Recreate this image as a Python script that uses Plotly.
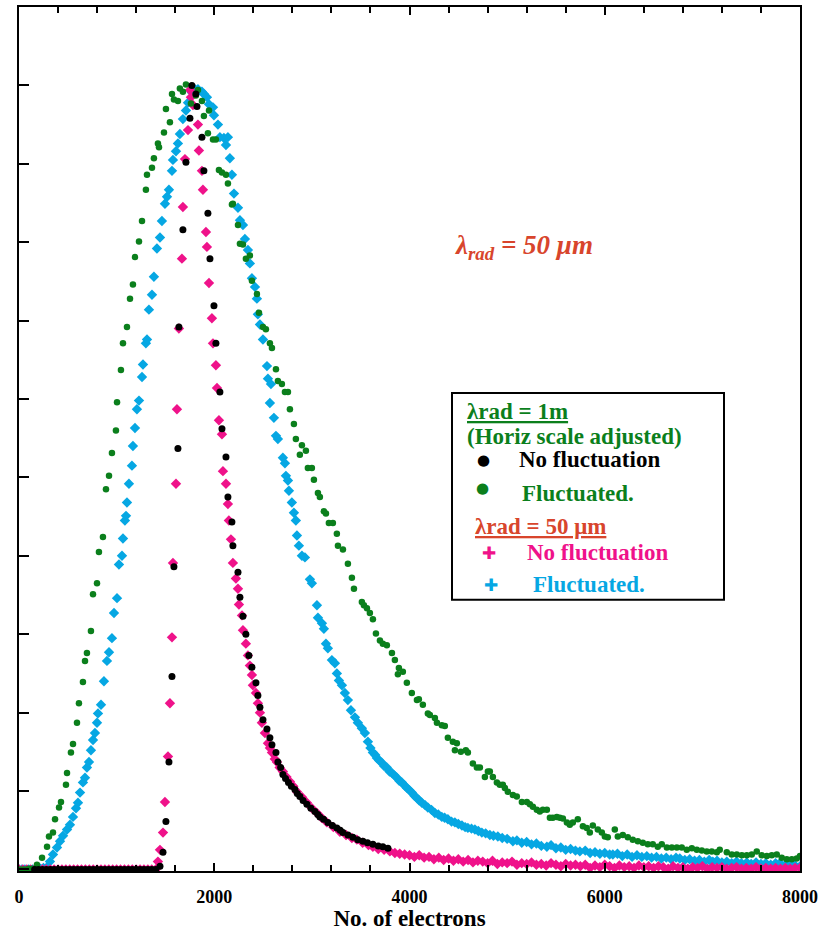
import plotly.graph_objects as go

# ---------------- data ----------------
# lambda_rad = 50 um, no fluctuation (pink)
pink_x = [0, 40, 80, 120, 160, 200, 240, 280, 320, 360, 400, 440, 480, 520, 560, 600, 640, 680, 720, 760,
          800, 840, 880, 920, 960, 1000, 1040, 1080, 1120, 1160, 1200, 1240, 1280, 1320, 1360, 1400,
          1423, 1444, 1475, 1495, 1526, 1546, 1567, 1577, 1608, 1618, 1638, 1669, 1679, 1700, 1731, 1751,
          1761, 1782, 1833, 1843, 1874, 1884, 1915, 1925, 1946, 1976, 1987, 2017, 2028, 2048, 2079, 2089,
          2120, 2140, 2150, 2171, 2191, 2222, 2243, 2253, 2284, 2294, 2324, 2345, 2365, 2386, 2396, 2427,
          2447, 2468, 2488, 2519, 2550, 2570, 2591, 2620, 2642, 2670, 2703, 2740, 2775, 2810, 2847, 2900,
          2949, 3000, 3052, 3100, 3154, 3220, 3287, 3350, 3410, 3461, 3520, 3580, 3625, 3680, 3740, 3799,
          3850, 3900, 3950, 4000, 4050, 4100, 4150, 4200, 4250, 4300, 4350, 4400, 4450, 4500, 4550, 4600,
          4650, 4700, 4750, 4800, 4850, 4900, 4950, 5000, 5050, 5100, 5150, 5200, 5250, 5300, 5350, 5400,
          5450, 5500, 5550, 5600, 5650, 5700, 5750, 5800, 5850, 5900, 5950, 6000, 6050, 6100, 6150, 6200,
          6250, 6300, 6350, 6400, 6450, 6500, 6550, 6600, 6650, 6700, 6750, 6800, 6850, 6900, 6950, 7000,
          7050, 7100, 7150, 7200, 7250, 7300, 7350, 7400, 7450, 7500, 7550, 7600, 7650, 7700, 7750, 7800,
          7850, 7900, 7950, 8000]
pink_y = [0] * 36 + [
          0.010, 0.025, 0.047, 0.086, 0.144, 0.212, 0.296, 0.391, 0.492, 0.587, 0.690, 0.779, 0.845, 0.906, 0.943, 0.994,
          0.985, 0.975, 0.950, 0.917, 0.891, 0.867, 0.813, 0.794, 0.748, 0.703, 0.671, 0.643, 0.614, 0.573, 0.555, 0.508,
          0.492, 0.466, 0.445, 0.421, 0.391, 0.371, 0.358, 0.338, 0.324, 0.305, 0.288, 0.273, 0.260, 0.248, 0.235, 0.225,
          0.212, 0.200, 0.187, 0.174, 0.161, 0.155, 0.149, 0.141, 0.137, 0.130, 0.125, 0.118, 0.112, 0.106, 0.099, 0.092,
          0.085, 0.078, 0.072, 0.066, 0.060, 0.054, 0.048, 0.044, 0.040, 0.038, 0.034, 0.031, 0.029, 0.026, 0.025, 0.023,
          0.021, 0.020, 0.019, 0.018, 0.016, 0.018, 0.015, 0.016, 0.013, 0.015, 0.012, 0.014, 0.011, 0.013, 0.010, 0.012,
          0.009, 0.011, 0.010, 0.008, 0.011, 0.007, 0.009, 0.008, 0.010, 0.006, 0.008, 0.007, 0.009, 0.006, 0.007, 0.005,
          0.008, 0.006, 0.004, 0.007, 0.005, 0.006, 0.004, 0.006, 0.002, 0.005, 0.003, 0.006, 0.004, 0.002, 0.005, 0.003,
          0.004, 0.002, 0.005, 0.003, 0.004, 0.002, 0.004, 0.003, 0.001, 0.004, 0.002, 0.003, 0.001, 0.003, 0.002, 0.004,
          0.001, 0.003, 0.002, 0.003, 0.001, 0.002, 0.003, 0.001, 0.002, 0.001, 0.003, 0.001, 0.002, 0.001, 0.002, 0.001,
          0.002, 0.001, 0.002, 0.002]

# lambda_rad = 1 m, no fluctuation (black)
black_x = [160, 200, 240, 280, 320, 360, 400, 440, 480, 520, 560, 600, 640, 680, 720, 760, 800, 840, 880, 920,
           960, 1000, 1040, 1080, 1120, 1160, 1200, 1240, 1280, 1320, 1360, 1400,
           1444, 1475, 1505, 1536, 1567, 1587, 1628, 1638, 1679, 1710, 1751, 1771, 1812, 1823, 1874, 1894,
           1935, 1956, 1997, 2017, 2058, 2079, 2120, 2140, 2181, 2191, 2243, 2263, 2294, 2324, 2355, 2386,
           2427, 2447, 2468, 2499, 2540, 2570, 2591, 2632, 2652, 2680, 2703, 2730, 2760, 2790, 2826, 2850,
           2877, 2910, 2949, 2990, 3031, 3060, 3082, 3120, 3164, 3210, 3256, 3290, 3318, 3370, 3420, 3470,
           3523, 3570, 3625, 3680, 3727, 3779]
black_y = [0] * 32 + [
           0.004, 0.022, 0.061, 0.137, 0.246, 0.386, 0.537, 0.692, 0.816, 0.902, 0.958, 1.000, 0.989, 0.973, 0.934, 0.891,
           0.837, 0.779, 0.719, 0.671, 0.609, 0.562, 0.526, 0.475, 0.443, 0.413, 0.379, 0.347, 0.323, 0.300, 0.273, 0.258,
           0.238, 0.222, 0.207, 0.191, 0.179, 0.168, 0.159, 0.149, 0.137, 0.130, 0.121, 0.116, 0.111, 0.106, 0.102, 0.097,
           0.093, 0.088, 0.083, 0.078, 0.074, 0.070, 0.067, 0.064, 0.060, 0.056, 0.053, 0.050, 0.047, 0.044, 0.041, 0.038,
           0.036, 0.034, 0.032, 0.030, 0.029, 0.027]

# lambda_rad = 1 m, fluctuated (green)
green_x = [0, 30, 60, 100, 133, 184, 236, 287, 307, 348, 369, 410, 430, 481, 492, 532, 553, 594, 614, 655,
           676, 696, 737, 758, 799, 819, 860, 891, 922, 952, 993, 1004, 1044, 1065, 1106, 1137, 1167, 1188, 1229, 1260,
           1300, 1311, 1362, 1382, 1423, 1434, 1485, 1505, 1546, 1567, 1587, 1628, 1648, 1679, 1710, 1761, 1812, 1833, 1874, 1894,
           1935, 1946, 1987, 2017, 2048, 2079, 2120, 2140, 2181, 2191, 2243, 2263, 2294, 2324, 2365, 2386, 2437, 2458, 2499, 2529,
           2570, 2591, 2632, 2652, 2693, 2724, 2755, 2775, 2816, 2836, 2877, 2898, 2939, 2959, 3000, 3021, 3062, 3082, 3123, 3144,
           3174, 3215, 3256, 3267, 3318, 3369, 3410, 3431, 3512, 3533, 3564, 3594, 3625, 3656, 3697, 3727, 3768, 3820, 3850, 3881,
           3891, 3932, 3973, 4024, 4076, 4096, 4137, 4188, 4209, 4260, 4281, 4331, 4362, 4393, 4444, 4465, 4485, 4526, 4577, 4598,
           4649, 4690, 4721, 4772, 4803, 4823, 4854, 4895, 4925, 4956, 4977, 5007, 5059, 5099, 5151, 5202, 5233, 5264, 5304, 5335,
           5366, 5407, 5438, 5468, 5509, 5540, 5571, 5612, 5642, 5673, 5724, 5776, 5816, 5847, 5878, 5929, 5970, 6001, 6031, 6103,
           6134, 6185, 6236, 6287, 6339, 6390, 6441, 6492, 6543, 6584, 6636, 6687, 6738, 6789, 6840, 6892, 6943, 6994, 7045, 7096,
           7148, 7178, 7250, 7301, 7352, 7404, 7455, 7506, 7557, 7608, 7660, 7711, 7762, 7813, 7864, 7916, 7967, 8000]
green_y = [0.000, 0.000, 0.000, 0.001, 0.001, 0.006, 0.015, 0.029, 0.042, 0.047, 0.064, 0.079, 0.086, 0.108, 0.123, 0.149, 0.160, 0.187, 0.212, 0.239,
           0.266, 0.276, 0.304, 0.351, 0.365, 0.405, 0.424, 0.485, 0.502, 0.531, 0.560, 0.596, 0.637, 0.671, 0.692, 0.728, 0.746, 0.781, 0.801, 0.827,
           0.867, 0.886, 0.895, 0.907, 0.926, 0.921, 0.940, 0.970, 0.953, 0.989, 0.982, 0.980, 0.996, 0.992, 1.001, 0.977, 0.987, 0.994, 0.980, 0.961,
           0.939, 0.968, 0.931, 0.931, 0.892, 0.889, 0.886, 0.875, 0.848, 0.849, 0.822, 0.798, 0.797, 0.779, 0.783, 0.751, 0.734, 0.710, 0.692, 0.689,
           0.671, 0.665, 0.638, 0.623, 0.619, 0.609, 0.609, 0.587, 0.568, 0.549, 0.529, 0.541, 0.534, 0.512, 0.512, 0.497, 0.480, 0.475, 0.457, 0.454,
           0.442, 0.442, 0.428, 0.413, 0.408, 0.390, 0.372, 0.358, 0.341, 0.337, 0.333, 0.327, 0.319, 0.301, 0.292, 0.288, 0.286, 0.276, 0.267, 0.249,
           0.257, 0.252, 0.238, 0.225, 0.216, 0.217, 0.210, 0.199, 0.197, 0.193, 0.187, 0.184, 0.183, 0.168, 0.163, 0.152, 0.161, 0.150, 0.152, 0.149,
           0.135, 0.130, 0.130, 0.118, 0.125, 0.125, 0.118, 0.111, 0.108, 0.108, 0.104, 0.099, 0.095, 0.093, 0.086, 0.086, 0.083, 0.080, 0.076, 0.074,
           0.076, 0.076, 0.066, 0.066, 0.067, 0.066, 0.065, 0.060, 0.057, 0.060, 0.064, 0.055, 0.053, 0.047, 0.056, 0.051, 0.047, 0.042, 0.041, 0.051,
           0.042, 0.044, 0.041, 0.038, 0.036, 0.034, 0.032, 0.032, 0.029, 0.032, 0.028, 0.028, 0.028, 0.028, 0.025, 0.027, 0.025, 0.024, 0.023, 0.023,
           0.022, 0.025, 0.022, 0.019, 0.019, 0.018, 0.018, 0.019, 0.023, 0.018, 0.017, 0.018, 0.019, 0.015, 0.013, 0.013, 0.014, 0.017]

# lambda_rad = 50 um, fluctuated (cyan)
cyan_x = [0, 30, 60, 100, 140, 180, 220, 250, 287, 317, 348, 389, 420, 451, 492, 522, 553, 584, 604, 625,
          655, 676, 696, 717, 737, 758, 778, 799, 809, 840, 870, 901, 922, 952, 973, 1004, 1024, 1055, 1065, 1085,
          1096, 1106, 1126, 1157, 1167, 1188, 1208, 1229, 1260, 1270, 1300, 1311, 1331, 1362, 1382, 1413, 1444, 1464, 1495, 1516,
          1536, 1567, 1577, 1608, 1628, 1648, 1679, 1710, 1731, 1771, 1802, 1833, 1874, 1894, 1925, 1946, 1987, 1997, 2038, 2058,
          2099, 2120, 2140, 2160, 2181, 2202, 2243, 2263, 2294, 2314, 2345, 2365, 2386, 2417, 2437, 2447, 2468, 2499, 2540, 2550,
          2570, 2581, 2611, 2632, 2652, 2703, 2724, 2734, 2755, 2765, 2795, 2816, 2836, 2847, 2867, 2898, 2929, 2980, 3000, 3052,
          3062, 3103, 3123, 3144, 3164, 3205, 3236, 3256, 3277, 3308, 3338, 3369, 3400, 3441, 3471, 3512, 3543, 3574, 3600, 3625,
          3650, 3666, 3690, 3717, 3740, 3768, 3795, 3820, 3845, 3871, 3895, 3922, 3950, 3973, 4000, 4024, 4050, 4076, 4100, 4127,
          4160, 4188, 4225, 4260, 4295, 4331, 4360, 4393, 4430, 4465, 4500, 4537, 4570, 4598, 4635, 4670, 4705, 4741, 4780, 4823,
          4860, 4905, 4950, 5000, 5059, 5100, 5150, 5200, 5250, 5300, 5350, 5407, 5450, 5500, 5550, 5600, 5650, 5700, 5745, 5800,
          5850, 5900, 5950, 6000, 6050, 6083, 6130, 6180, 6230, 6280, 6330, 6380, 6431, 6480, 6530, 6580, 6630, 6680, 6730, 6769,
          6820, 6870, 6920, 6970, 7020, 7070, 7107, 7150, 7200, 7250, 7300, 7350, 7400, 7455, 7500, 7550, 7600, 7650, 7700, 7750,
          7793, 7850, 7900, 7950, 8000]
cyan_y = [0.000, 0.000, 0.000, 0.000, 0.000, 0.000, 0.001, 0.002, 0.003, 0.010, 0.019, 0.028, 0.036, 0.043, 0.051, 0.057, 0.067, 0.078, 0.085, 0.098,
          0.111, 0.117, 0.130, 0.137, 0.152, 0.165, 0.174, 0.187, 0.199, 0.210, 0.240, 0.266, 0.277, 0.295, 0.327, 0.346, 0.389, 0.400, 0.422, 0.445,
          0.451, 0.468, 0.492, 0.515, 0.540, 0.563, 0.587, 0.598, 0.628, 0.644, 0.671, 0.676, 0.714, 0.733, 0.756, 0.792, 0.806, 0.827, 0.849, 0.858,
          0.867, 0.891, 0.905, 0.916, 0.926, 0.938, 0.957, 0.968, 0.978, 0.991, 0.995, 0.995, 0.992, 0.989, 0.985, 0.976, 0.972, 0.962, 0.950, 0.934,
          0.933, 0.924, 0.934, 0.907, 0.886, 0.862, 0.844, 0.828, 0.822, 0.804, 0.790, 0.773, 0.754, 0.743, 0.728, 0.708, 0.695, 0.676, 0.642, 0.626,
          0.595, 0.619, 0.576, 0.553, 0.549, 0.525, 0.518, 0.502, 0.496, 0.483, 0.468, 0.455, 0.445, 0.426, 0.413, 0.400, 0.398, 0.370, 0.365, 0.337,
          0.321, 0.314, 0.307, 0.288, 0.282, 0.267, 0.263, 0.250, 0.241, 0.235, 0.225, 0.216, 0.203, 0.194, 0.187, 0.180, 0.174, 0.163, 0.155, 0.149,
          0.146, 0.142, 0.139, 0.136, 0.132, 0.130, 0.125, 0.123, 0.120, 0.117, 0.113, 0.111, 0.107, 0.104, 0.101, 0.098, 0.094, 0.091, 0.088, 0.085,
          0.082, 0.079, 0.076, 0.072, 0.070, 0.067, 0.066, 0.064, 0.061, 0.060, 0.058, 0.056, 0.054, 0.053, 0.052, 0.051, 0.049, 0.047, 0.046, 0.044,
          0.043, 0.042, 0.040, 0.039, 0.036, 0.037, 0.034, 0.035, 0.032, 0.033, 0.030, 0.029, 0.031, 0.027, 0.028, 0.025, 0.026, 0.024, 0.023, 0.024,
          0.021, 0.022, 0.020, 0.021, 0.019, 0.019, 0.020, 0.017, 0.019, 0.016, 0.018, 0.016, 0.017, 0.015, 0.016, 0.014, 0.015, 0.013, 0.015, 0.014,
          0.012, 0.013, 0.011, 0.012, 0.010, 0.012, 0.010, 0.011, 0.009, 0.010, 0.008, 0.010, 0.008, 0.009, 0.007, 0.009, 0.007, 0.008, 0.006, 0.008,
          0.008, 0.006, 0.007, 0.005, 0.004]

x_major_ticks = [0, 2000, 4000, 6000, 8000]
x_minor_step = 400
x_title = "No. of electrons"

# ---------------- colours / styles ----------------
C_BLACK = "#000000"
C_GREEN = "#0b7f1c"
C_PINK = "#ef128a"
C_CYAN = "#06a7e3"
C_RED = "#d8452c"
SERIF = "Liberation Serif"

fig = go.Figure()
fig.add_trace(go.Scatter(x=cyan_x, y=cyan_y, mode="markers",
                         marker=dict(symbol="diamond", size=8, color=C_CYAN, line=dict(width=0))))
fig.add_trace(go.Scatter(x=pink_x, y=pink_y, mode="markers",
                         marker=dict(symbol="diamond", size=8, color=C_PINK, line=dict(width=0))))
fig.add_trace(go.Scatter(x=green_x, y=green_y, mode="markers",
                         marker=dict(symbol="circle", size=6.5, color=C_GREEN, line=dict(width=0))))
fig.add_trace(go.Scatter(x=black_x, y=black_y, mode="markers",
                         marker=dict(symbol="circle", size=7, color=C_BLACK, line=dict(width=0))))

L, R, T, B = 19, 25, 5, 60
W, H = 825, 931
PW, PH = W - L - R, H - T - B


def px(xp):
    return (xp - L) / PW


def py(yp):
    return (H - B - yp) / PH


fig.update_layout(
    width=W, height=H, margin=dict(l=L, r=R, t=T, b=B),
    paper_bgcolor="white", plot_bgcolor="white", showlegend=False,
    font=dict(family=SERIF, color="black"),
    xaxis=dict(range=[0, 8000], showgrid=False, zeroline=False,
               showline=True, linecolor="black", linewidth=2, mirror="allticks",
               ticks="inside", ticklen=8, tickwidth=1.5, tickcolor="black",
               tickvals=x_major_ticks,
               ticktext=["<b>%d</b>" % v for v in x_major_ticks],
               minor=dict(dtick=x_minor_step, tick0=0, ticks="inside", ticklen=6,
                          tickwidth=1.5, tickcolor="black", showgrid=False),
               ticklabelstandoff=8,
               tickfont=dict(family=SERIF, size=18, color="black"),
               title=dict(text="<b>%s</b>" % x_title, font=dict(family=SERIF, size=23, color="black"),
                          standoff=2)),
    yaxis=dict(range=[-0.002, 1.1], showgrid=False, zeroline=False,
               showline=True, linecolor="black", linewidth=2, mirror=True,
               ticks="inside", ticklen=10, tickwidth=1.5, tickcolor="black",
               tick0=0, dtick=0.1, showticklabels=False),
)

# legend box
fig.add_shape(type="rect", xref="paper", yref="paper",
              x0=px(452), x1=px(724), y0=py(599), y1=py(392),
              line=dict(color="black", width=2), fillcolor="white", layer="above")


def ann(text, xp, yp, color, size=23, font=SERIF):
    fig.add_annotation(text=text, x=px(xp), y=py(yp), xref="paper", yref="paper",
                       xanchor="left", yanchor="middle", showarrow=False,
                       font=dict(family=font, size=size, color=color))


ann("<b><u>λrad = 1m</u></b>", 465, 410, C_GREEN)
ann("<b>(Horiz scale adjusted)</b>", 465, 435, C_GREEN)
ann("●", 475, 459, C_BLACK, size=15, font="DejaVu Sans")
ann("<b>No fluctuation</b>", 517, 459, C_BLACK)
ann("●", 474, 487, C_GREEN, size=15, font="DejaVu Sans")
ann("<b>Fluctuated.</b>", 520, 493, C_GREEN)
ann("<b><u>λrad = 50 μm</u></b>", 473, 526, C_RED)
ann("✚", 480, 552, C_PINK, size=17, font="DejaVu Sans")
ann("<b>No fluctuation</b>", 525, 552, C_PINK)
ann("✚", 482, 584, C_CYAN, size=17, font="DejaVu Sans")
ann("<b>Fluctuated.</b>", 531, 584, C_CYAN)

# in-plot label
ann("<b><i>λ<sub>rad</sub> = 50 μm</i></b>", 453, 246, C_RED, size=27)

fig.write_html("out.html")
